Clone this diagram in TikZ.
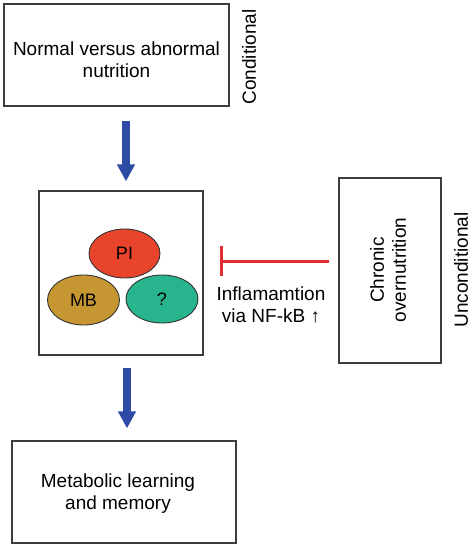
\documentclass[tikz,border=0pt]{standalone}
\usepackage{fontspec}
\setmainfont{Liberation Sans}
\usetikzlibrary{arrows.meta,calc,shapes.geometric}
\definecolor{boxline}{RGB}{60,60,60}
\definecolor{arrowblue}{RGB}{45,75,165}
\definecolor{inhred}{RGB}{225,45,45}
\definecolor{pired}{RGB}{232,68,44}
\definecolor{mbgold}{RGB}{198,150,50}
\definecolor{qteal}{RGB}{40,180,140}
\tikzset{
  txt/.style={font=\fontsize{19}{22}\selectfont, align=center, inner sep=0pt},
  frame/.style={draw=boxline, line width=1.2pt, inner sep=0pt},
  blob/.style={draw=black!80, line width=0.9pt, ellipse, inner sep=0pt, font=\fontsize{18}{22}\selectfont},
  bigarrow/.style={draw=arrowblue, line width=8pt, -{Triangle[width=17pt,length=17pt]}},
  inhibit/.style={draw=inhred, line width=3pt, -{Bar[width=30pt,line width=3pt]}}
}
\begin{document}
\begin{tikzpicture}[x=1pt,y=-1pt]
\useasboundingbox (0,0) rectangle (474,549);
% boxes
\node[frame, minimum width=225pt, minimum height=102pt] (top) at (116.5,55) {};
\node[txt] (toptxt) at (116.5,60) {Normal versus abnormal\\nutrition};
\node[txt, rotate=90] (cond) at (249,57) {Conditional};

\node[frame, minimum width=164pt, minimum height=164pt] (mid) at (121,273) {};
\node[blob, fill=pired, minimum width=71pt, minimum height=49pt] (pi) at (124.5,253.5) {PI};
\node[blob, fill=mbgold, minimum width=72pt, minimum height=50pt] (mb) at (83.5,300) {MB};
\node[blob, fill=qteal, minimum width=72pt, minimum height=48pt] (q) at (162,299) {?};

\node[frame, minimum width=102pt, minimum height=185pt] (right) at (390,270.5) {};
\node[txt, rotate=90] (rtxt) at (388,270) {Chronic\\overnutrition};
\node[txt, rotate=90] (uncond) at (461,270) {Unconditional};

\node[txt] (inflam) at (271,305) {Inflamamtion\\via NF-kB ↑};

\node[frame, minimum width=224pt, minimum height=102pt] (bot) at (124,492) {};
\node[txt] (bottxt) at (118,494) {Metabolic learning\\and memory};

% connectors
\draw[bigarrow] ([xshift=9.5pt,yshift=-14pt]top.south) -- ([xshift=5pt,yshift=9pt]mid.north);
\draw[bigarrow] ([xshift=6pt,yshift=-12pt]mid.south) -- ([xshift=3pt,yshift=12pt]bot.north);
\coordinate (barpt) at (220,261);
\draw[inhibit] ([xshift=-9pt,yshift=9.5pt]right.west) -- (barpt);
\end{tikzpicture}
\end{document}
